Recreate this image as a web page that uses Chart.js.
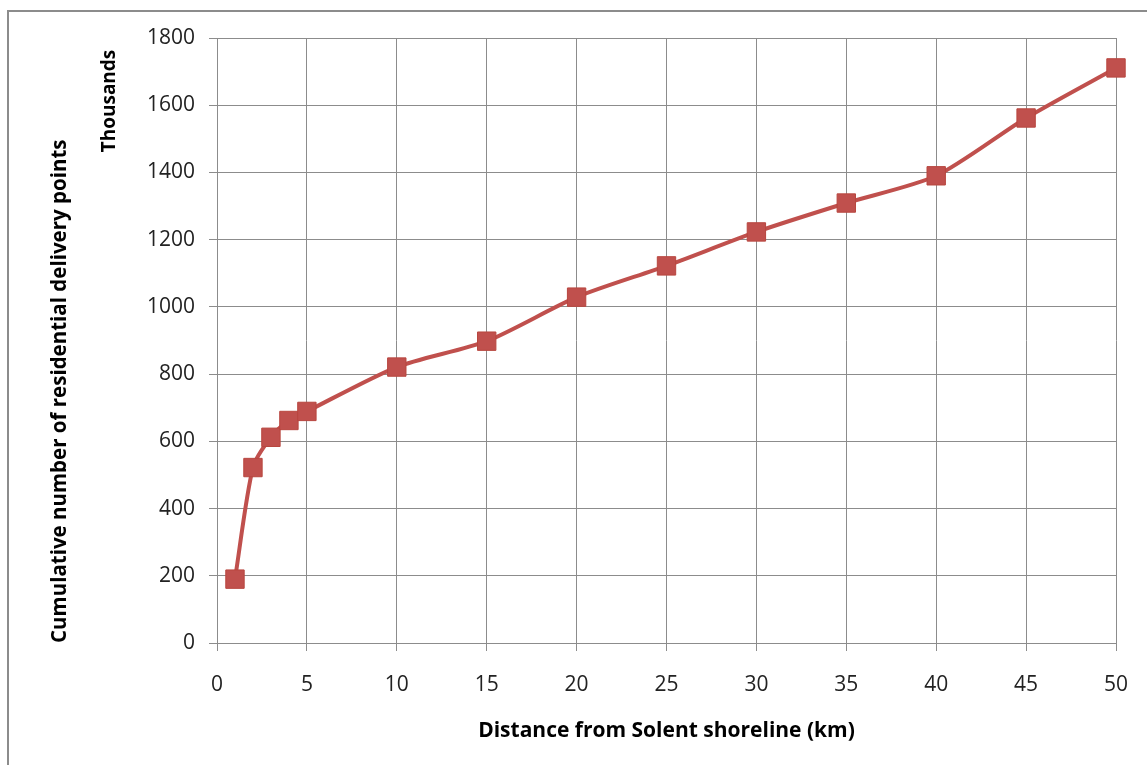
<!DOCTYPE html>
<html>
<head>
<meta charset="utf-8">
<script src="https://cdn.jsdelivr.net/npm/chart.js@4.4.1/dist/chart.umd.min.js"></script>
<style>
  body { margin: 0; background: #fff; }
  #frame { position: absolute; left: 7px; top: 10px; width: 1200px; height: 800px;
           border-left: 2px solid #8c8c8c; border-top: 2px solid #8c8c8c; }
  #chart { position: absolute; left: 0; top: 0; }
</style>
</head>
<body>
<div id="frame"></div>
<canvas id="chart" width="1147" height="765"></canvas>
<script>
const distances = [1, 2, 3, 4, 5, 10, 15, 20, 25, 30, 35, 40, 45, 50];
const deliveryPoints = [190, 522, 612, 662, 689, 821, 898, 1029, 1122, 1223, 1309, 1390, 1562, 1711]; // thousands
const xTitle = 'Distance from Solent shoreline (km)';
const yTitle = 'Cumulative number of residential delivery points';
const unitLabel = 'Thousands';

const FONT = "'Open Sans', sans-serif";
const gridColor = '#8c8c8c';
const red = '#c0504d';

const points = distances.map((d, i) => ({ x: d, y: deliveryPoints[i] }));

// draws the "Thousands" display unit label
const unitPlugin = {
  id: 'unitLabel',
  afterDraw(chart) {
    const c = chart.ctx;
    c.save();
    c.translate(110, 101);
    c.rotate(-Math.PI / 2);
    c.font = "bold 19px " + FONT;
    c.fillStyle = '#000';
    c.textAlign = 'center';
    c.textBaseline = 'middle';
    c.fillText(unitLabel, 0, 0);
    c.restore();
  }
};

const ctx = document.getElementById('chart');
const grafico = new Chart(ctx, {
  type: 'line',
  data: {
    datasets: [{
      data: points,
      borderColor: red,
      borderWidth: 4,
      backgroundColor: red,
      pointStyle: 'rect',
      pointRadius: 13,
      pointBorderColor: '#b8463f',
      pointBorderWidth: 1,
      tension: 0.25,
      clip: false
    }]
  },
  options: {
    responsive: false,
    animation: false,
    layout: { autoPadding: false, padding: { left: 40, top: 38, right: 31, bottom: 0 } },
    plugins: { legend: { display: false }, tooltip: { enabled: false } },
    scales: {
      x: {
        type: 'linear',
        min: 0, max: 50,
        afterFit(scale) {
          scale.height = 122;
          scale.paddingLeft = 0;
          scale.paddingRight = 0;
        },
        ticks: { stepSize: 5, padding: 21, color: '#222', font: { family: FONT, size: 21 } },
        grid: { color: gridColor, tickLength: 8 },
        border: { color: gridColor },
        title: { display: true, text: xTitle, color: '#000',
                 font: { family: FONT, size: 21, weight: 'bold' }, padding: { top: 0, bottom: 21 } }
      },
      y: {
        min: 0, max: 1800,
        afterFit(scale) { scale.width = 177; },
        ticks: { stepSize: 200, padding: 14, color: '#222', font: { family: FONT, size: 21 },
                 callback: v => String(v) },
        grid: { color: gridColor, tickLength: 8 },
        border: { color: gridColor },
        title: { display: true, text: yTitle, color: '#000', align: 'start',
                 font: { family: FONT, size: 20.5, weight: 'bold' }, padding: { top: 8, bottom: 0 } }
      }
    }
  },
  plugins: [unitPlugin]
});
</script>
</body>
</html>
